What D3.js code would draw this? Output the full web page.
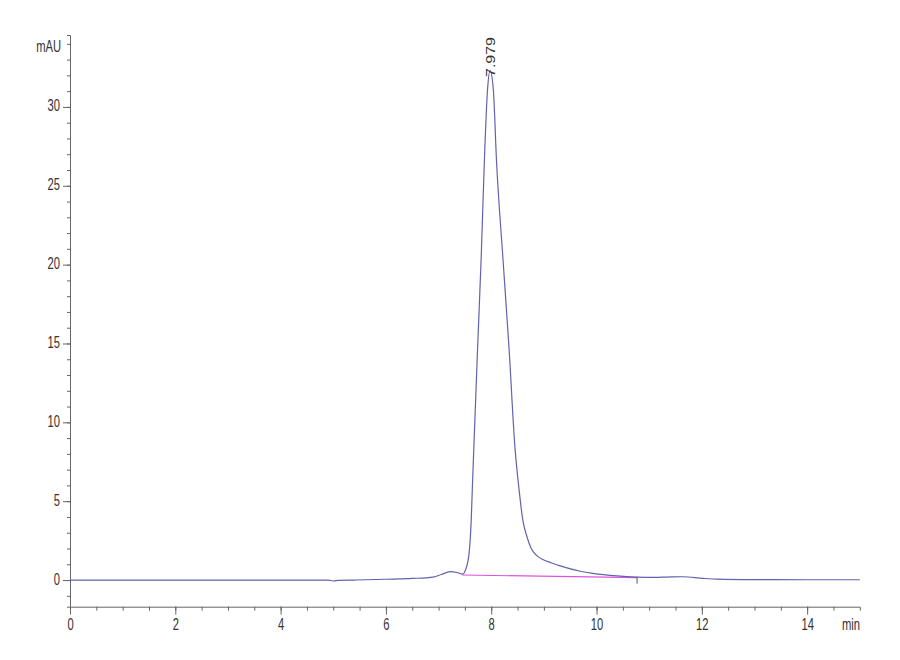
<!DOCTYPE html>
<html>
<head>
<meta charset="utf-8">
<script src="https://cdn.jsdelivr.net/npm/d3@7"></script>
<style>
  body { margin: 0; background: #fff; }
  text { font-family: "Liberation Sans", Arial, sans-serif; fill: #333; }
</style>
</head>
<body>
<svg width="900" height="660"></svg>
<script>
// chromatogram trace
const times = [0, 1, 2, 3, 4, 4.6, 4.9, 5.0, 5.1, 5.4, 6.0, 6.5, 6.9, 7.05, 7.22, 7.35, 7.46,
  7.51, 7.58, 7.62, 7.64, 7.67, 7.74, 7.81, 7.87, 7.93, 7.979, 8.04, 8.10, 8.22, 8.34, 8.45,
  8.53, 8.60, 8.68, 8.76, 8.85, 8.98, 9.15, 9.31, 9.69, 9.93, 10.39, 10.77, 11.1, 11.34,
  11.64, 12.02, 12.29, 13, 14, 15];
const signal = [0, 0, 0, 0, 0, 0, 0, -0.06, -0.02, 0, 0.05, 0.1, 0.19, 0.35, 0.53, 0.48, 0.38,
  0.63, 1.71, 3.8, 5.7, 8.43, 14.6, 20.5, 26.6, 31.1, 32.3, 31.1, 26.6, 20.5, 14.6, 8.43,
  5.7, 3.8, 2.73, 2.0, 1.6, 1.3, 1.08, 0.9, 0.56, 0.42, 0.26, 0.19, 0.17, 0.19,
  0.21, 0.11, 0.06, 0.03, 0.02, 0.02];

// integration baseline under the peak
const baseTimes = [7.45, 10.77];
const baseSignal = [0.32, 0.15];

const peakTime = 7.979;
const peakLabel = "7.979";

const xTicks = [0, 2, 4, 6, 8, 10, 12, 14];
const yTicks = [0, 5, 10, 15, 20, 25, 30];

const svg = d3.select('svg');

const x = d3.scaleLinear().domain([0, 15]).range([70, 859.8]);
const y = d3.scaleLinear().domain([-1.69, 34.56]).range([606.7, 35]);

const axisColor = '#666';
const squeeze = 0.7;   // labels in the picture are narrow
const fontSize = '16px';

// x axis
const gx = svg.append('g').attr('transform', `translate(0,${y.range()[0]})`);
gx.call(d3.axisBottom(x).tickValues(d3.range(0, 15, 0.5)).tickSize(4).tickFormat(''))
gx.append('g')
  .call(d3.axisBottom(x).tickValues(xTicks).tickSize(8).tickFormat(d3.format('d')))
  .call(g => g.select('.domain').remove())
gx.selectAll('line, path').attr('stroke', axisColor)
gx.selectAll('text')
  .attr('y', 12)
  .attr('transform', `scale(${squeeze},1)`)
  .style('font-size', fontSize).attr('fill', '#333')
  .style('font-family', '"Liberation Sans", Arial, sans-serif')

svg.append('text')
  .attr('transform', `translate(860,630) scale(${squeeze},1)`)
  .attr('text-anchor', 'end')
  .style('font-size', fontSize)
  .text('min')

// y axis
const gy = svg.append('g').attr('transform', `translate(${x.range()[0]},0)`);
gy.call(d3.axisLeft(y).tickValues(d3.range(-1, 35, 1)).tickSize(3).tickFormat(''))
gy.append('g')
  .call(d3.axisLeft(y).tickValues(yTicks).tickSize(7).tickFormat(d3.format('d')))
  .call(g => g.select('.domain').remove())
gy.selectAll('line, path').attr('stroke', axisColor)
gy.selectAll('text')
  .attr('x', -10 / squeeze)
  .attr('dy', '0.25em')
  .attr('transform', `scale(${squeeze},1)`)
  .style('font-size', fontSize).attr('fill', '#333')
  .style('font-family', '"Liberation Sans", Arial, sans-serif')

svg.append('text')
  .attr('transform', `translate(61,52) scale(${squeeze},1)`)
  .attr('text-anchor', 'end')
  .style('font-size', fontSize)
  .text('mAU')

// baseline
svg.append('path')
  .attr('d', d3.line().x((d, i) => x(baseTimes[i])).y(d => y(d))(baseSignal))
  .attr('fill', 'none')
  .attr('stroke', '#e050e0')
  .attr('stroke-width', 1.2)

// end-of-peak marker
svg.append('line')
  .attr('x1', x(baseTimes[1])).attr('x2', x(baseTimes[1]))
  .attr('y1', y(baseSignal[1]) - 1).attr('y2', y(baseSignal[1]) + 6)
  .attr('stroke', '#555')
  .attr('stroke-width', 1)

// trace
const line = d3.line()
  .x((d, i) => x(times[i]))
  .y(d => y(d))
  .curve(d3.curveMonotoneX);

svg.append('path')
  .attr('d', line(signal))
  .attr('fill', 'none')
  .attr('stroke', '#6262ad')
  .attr('stroke-width', 1.2)

// retention time label
svg.append('text')
  .attr('transform', `translate(${x(peakTime) + 5},77) rotate(-90) scale(1,0.8)`)
  .attr('text-anchor', 'start')
  .style('font-size', fontSize)
  .attr('fill', '#333')
  .text(peakLabel)
</script>
</body>
</html>
